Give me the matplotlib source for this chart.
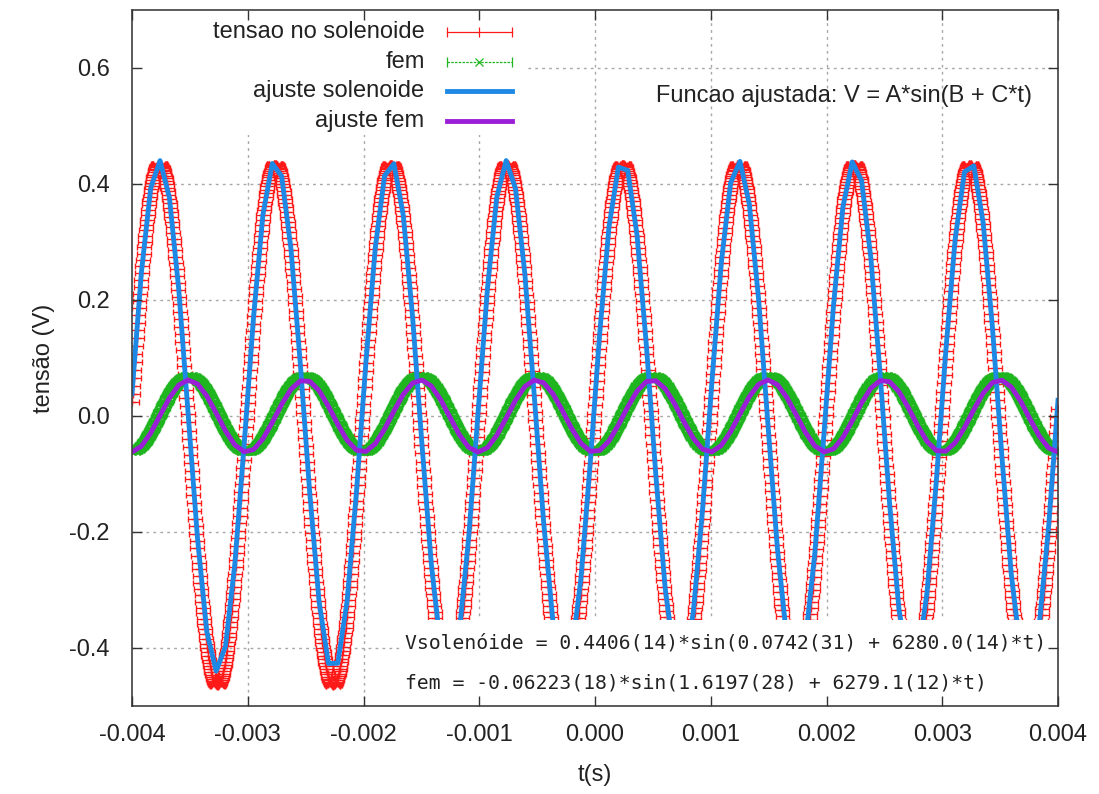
import numpy as np
import matplotlib
matplotlib.use('Agg')
from matplotlib import pyplot as plt
from matplotlib.patches import Rectangle

plt.rcParams['font.family'] = ['Liberation Sans', 'DejaVu Sans']

# fitted parameters shown on the chart: V = A*sin(B + C*t)
sol_fit = [0.4406, 0.0742, 6280.0]
fem_fit = [-0.06223, 1.6197, 6279.1]

sol_data = [0.450, -0.015]
fem_data = [-0.066, 0.004]
t_step = 5e-6       # sample spacing of the measurements
t_err = 6e-5        # horizontal error bars
n_fit_samples = 100  # gnuplot default samples

x_ticks = [-0.004, -0.003, -0.002, -0.001, 0.0, 0.001, 0.002, 0.003, 0.004]
y_ticks = [-0.4, -0.2, 0.0, 0.2, 0.4, 0.6]

legend_labels = ['tensao no solenoide', 'fem', 'ajuste solenoide', 'ajuste fem']
fit_title = 'Funcao ajustada: V = A*sin(B + C*t)'
fit_sol_text = 'Vsolenóide = 0.4406(14)*sin(0.0742(31) + 6280.0(14)*t)'
fit_fem_text = 'fem = -0.06223(18)*sin(1.6197(28) + 6279.1(12)*t)'

red = '#ff1a1a'
green = '#1fb51f'
blue = '#1e88e5'
purple = '#9a1fd6'
fs = 17

t_data = np.arange(x_ticks[0], x_ticks[-1] + t_step / 2, t_step)
v_sol = sol_data[0] * np.sin(sol_fit[1] + sol_fit[2] * t_data) + sol_data[1]
v_fem = fem_data[0] * np.sin(fem_fit[1] + fem_fit[2] * t_data) + fem_data[1]

t_fit = np.linspace(x_ticks[0], x_ticks[-1], n_fit_samples)
v_sol_fit = sol_fit[0] * np.sin(sol_fit[1] + sol_fit[2] * t_fit)
v_fem_fit = fem_fit[0] * np.sin(fem_fit[1] + fem_fit[2] * t_fit)

fig = plt.figure(figsize=(10.99, 7.94), dpi=100)
ax = fig.add_axes([132 / 1099, 1 - 706 / 794, 926 / 1099, 696 / 794])

# dotted grid drawn by hand so the opaque boxes can hide it
for xv in x_ticks[1:-1]:
    ax.axvline(xv, color='#a8a8a8', lw=1, ls=(0, (2, 3)), zorder=1)
for yv in y_ticks:
    ax.axhline(yv, color='#a8a8a8', lw=1, ls=(0, (2, 3)), zorder=1)

ax.errorbar(t_data, v_sol, xerr=t_err, fmt='+', color=red, ms=6, mew=1.0,
            elinewidth=0.9, capsize=2.5, capthick=1.0, zorder=2)
ax.errorbar(t_data, v_fem, xerr=t_err, fmt='x', color=green, ms=5, mew=1.0,
            elinewidth=0.9, capsize=2.5, capthick=1.0, zorder=3)
ax.plot(t_fit, v_sol_fit, color=blue, lw=3.5, zorder=4)
ax.plot(t_fit, v_fem_fit, color=purple, lw=3.5, zorder=5)

ax.set_xlim(-0.004, 0.004)
ax.set_ylim(-0.5, 0.7)
ax.set_xticks(x_ticks)
ax.set_xticklabels(['{0:.3f}'.format(v) for v in x_ticks])
ax.set_yticks(y_ticks)
ax.set_yticklabels(['{0:.1f}'.format(v) for v in y_ticks])
ax.tick_params(direction='in', length=7, width=1, top=True, right=True,
               labelsize=fs, color='#333333', labelcolor='#222222')
ax.tick_params(axis='x', pad=13)
ax.tick_params(axis='y', pad=16)
ax.xaxis.set_zorder(10)
ax.yaxis.set_zorder(10)
for sp in ax.spines.values():
    sp.set_color('#404040')
    sp.set_linewidth(1.2)
    sp.set_zorder(10)

ax.set_xlabel('t(s)', fontsize=fs, color='#222222', labelpad=13)
ax.set_ylabel('tensão (V)', fontsize=fs, color='#222222', labelpad=10)

# fit parameter box at the bottom
ax.add_patch(Rectangle((0.289, 0), 0.711, 0.124, transform=ax.transAxes,
                       facecolor='white', edgecolor='none', zorder=6))
ax.text(0.295, 0.0905, fit_sol_text, transform=ax.transAxes, fontsize=14.2,
        family='DejaVu Sans Mono', va='center', ha='left', color='#222222', zorder=7)
ax.text(0.295, 0.033, fit_fem_text, transform=ax.transAxes, fontsize=14.2,
        family='DejaVu Sans Mono', va='center', ha='left', color='#222222', zorder=7)

ax.text(0.972, 0.876, fit_title, transform=ax.transAxes, fontsize=fs,
        va='center', ha='right', color='#222222', zorder=7)

# key, gnuplot style: text right aligned, sample to the right
ax.add_patch(Rectangle((0, 0.82), 0.424, 0.18, transform=ax.transAxes,
                       facecolor='white', edgecolor='none', zorder=8))
key_y = [0.968, 0.925, 0.883, 0.840]
x0, xm, x1 = 0.340, 0.375, 0.410
for label, ky in zip(legend_labels, key_y):
    ax.text(0.316, ky, label, transform=ax.transAxes, fontsize=fs,
            ha='right', va='center', color='#222222', zorder=9)
ax.plot([x0, x1], [key_y[0]] * 2, color=red, lw=0.9, transform=ax.transAxes, zorder=9)
ax.plot([x0, xm, x1], [key_y[0]] * 3, ls='none', marker='|', ms=7, mew=0.9,
        color=red, transform=ax.transAxes, zorder=9)
ax.plot([x0, x1], [key_y[1]] * 2, color=green, lw=0.9, ls=(0, (2, 1)),
        transform=ax.transAxes, zorder=9)
ax.plot([x0, x1], [key_y[1]] * 2, ls='none', marker='|', ms=7, mew=0.9,
        color=green, transform=ax.transAxes, zorder=9)
ax.plot([xm], [key_y[1]], ls='none', marker='x', ms=6, mew=0.9,
        color=green, transform=ax.transAxes, zorder=9)
ax.plot([x0, x1], [key_y[2]] * 2, color=blue, lw=3.5, transform=ax.transAxes, zorder=9)
ax.plot([x0, x1], [key_y[3]] * 2, color=purple, lw=3.5, transform=ax.transAxes, zorder=9)

fig.savefig('out.png', dpi=100)
